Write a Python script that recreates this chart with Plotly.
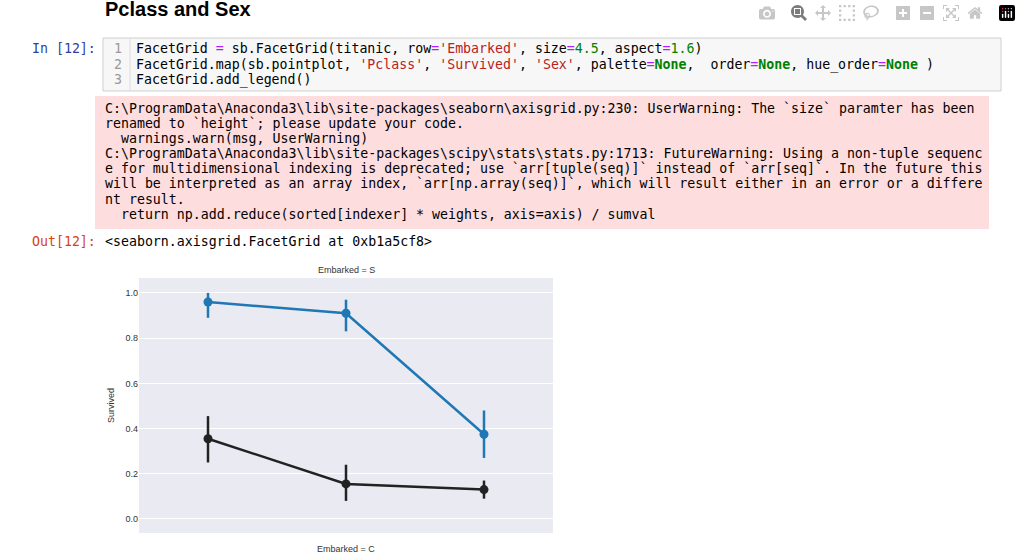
import plotly.graph_objects as go

# data
pclass = [1, 2, 3]
female_surv = [0.96, 0.91, 0.375]
female_lo = [0.89, 0.83, 0.27]
female_hi = [1.0, 0.97, 0.48]
male_surv = [0.355, 0.155, 0.13]
male_lo = [0.25, 0.08, 0.09]
male_hi = [0.455, 0.24, 0.17]
yticks = [0.0, 0.2, 0.4, 0.6, 0.8, 1.0]

W, H = 1021, 555
def px(x): return x / W
def py(y): return 1 - y / H

fig = go.Figure()
for vals, lo, hi, col in [(female_surv, female_lo, female_hi, "#1f77b4"),
                          (male_surv, male_lo, male_hi, "#222222")]:
    fig.add_trace(go.Scatter(
        x=[p - 1 for p in pclass], y=vals, mode="lines+markers",
        line=dict(color=col, width=2.5), marker=dict(color=col, size=9),
        error_y=dict(type="data", symmetric=False,
                     array=[h - v for h, v in zip(hi, vals)],
                     arrayminus=[v - l for v, l in zip(vals, lo)],
                     color=col, thickness=2.5, width=0),
        showlegend=False))

fig.update_layout(
    width=W, height=H, margin=dict(l=0, r=0, t=0, b=0),
    paper_bgcolor="white", plot_bgcolor="#EAEAF2",
    xaxis=dict(domain=[px(139), px(553)], range=[-0.5, 2.5], showticklabels=False,
               showgrid=False, zeroline=False),
    yaxis=dict(domain=[py(533), py(278)], range=[-0.062, 1.066], tickvals=yticks,
               tickformat=".1f", gridcolor="white", zeroline=False,
               tickfont=dict(family="Liberation Sans", size=9, color="#333")),
)

shapes = [
    dict(type="rect", xref="paper", yref="paper", x0=px(103), x1=px(1001), y0=py(91), y1=py(38),
         fillcolor="#F7F7F7", line=dict(color="#CFCFCF", width=1), layer="below"),
    dict(type="rect", xref="paper", yref="paper", x0=px(95), x1=px(989), y0=py(229), y1=py(96),
         fillcolor="#FDDDDD", line=dict(width=0), layer="below"),
    dict(type="line", xref="paper", yref="paper", x0=px(130), x1=px(130), y0=py(91), y1=py(38),
         line=dict(color="#DDDDDD", width=1)),
]
fig.update_layout(shapes=shapes)

mono = "DejaVu Sans Mono"
def txt(x, y, s, size=13.25, color="#000", family=mono, **kw):
    fig.add_annotation(xref="paper", yref="paper", x=px(x), y=py(y), text=s, showarrow=False,
                       xanchor=kw.pop("xanchor", "left"), yanchor="middle",
                       font=dict(family=family, size=size, color=color), **kw)

def c(s, col): return f"<span style='color:{col}'>{s}</span>"
G, R = "#008000", "#BA2121"

txt(103, 9, "<b>Pclass and Sex</b>", size=20, family="Liberation Sans")
txt(30, 49, "In [12]:", color="#303F9F")
txt(30, 241, "Out[12]:", color="#D84315")

code = [
    "FacetGrid " + c("=", "#AA22FF") + " sb.FacetGrid(titanic, row" + c("=", "#AA22FF") + c("'Embarked'", R)
    + ", size" + c("=", "#AA22FF") + c("4.5", G) + ", aspect" + c("=", "#AA22FF") + c("1.6", G) + ")",
    "FacetGrid.map(sb.pointplot, " + c("'Pclass'", R) + ", " + c("'Survived'", R) + ", " + c("'Sex'", R)
    + ", palette" + c("=", "#AA22FF") + c("<b>None</b>", G) + ",&nbsp;&nbsp;order" + c("=", "#AA22FF")
    + c("<b>None</b>", G) + ", hue_order" + c("=", "#AA22FF") + c("<b>None</b>", G) + " )",
    "FacetGrid.add_legend()",
]
for i, line in enumerate(code):
    y = 49 + i * 15.5
    txt(124, y, str(i + 1), color="#999", xanchor="right")
    txt(134, y, line)

err = [
    "C:\\ProgramData\\Anaconda3\\lib\\site-packages\\seaborn\\axisgrid.py:230: UserWarning: The `size` paramter has been",
    "renamed to `height`; please update your code.",
    "&nbsp;&nbsp;warnings.warn(msg, UserWarning)",
    "C:\\ProgramData\\Anaconda3\\lib\\site-packages\\scipy\\stats\\stats.py:1713: FutureWarning: Using a non-tuple sequenc",
    "e for multidimensional indexing is deprecated; use `arr[tuple(seq)]` instead of `arr[seq]`. In the future this",
    "will be interpreted as an array index, `arr[np.array(seq)]`, which will result either in an error or a differe",
    "nt result.",
    "&nbsp;&nbsp;return np.add.reduce(sorted[indexer] * weights, axis=axis) / sumval",
]
for i, line in enumerate(err):
    txt(103, 108 + i * 15.2, line)

txt(103, 241, "&lt;seaborn.axisgrid.FacetGrid at 0xb1a5cf8&gt;")

txt(346, 270, "Embarked = S", size=9, color="#333", family="Liberation Sans", xanchor="center")
txt(346, 549, "Embarked = C", size=9, color="#333", family="Liberation Sans", xanchor="center")
txt(111, 406, "Survived", size=9, color="#333", family="Liberation Sans", xanchor="center", textangle=-90)

fig.write_html("out.html")

# drop the default page margin so the figure fills the window
with open("out.html", encoding="utf-8") as f:
    page = f.read()
page = page.replace("<head>", "<head><style>body{margin:0;overflow:hidden}</style>", 1)
with open("out.html", "w", encoding="utf-8") as f:
    f.write(page)
